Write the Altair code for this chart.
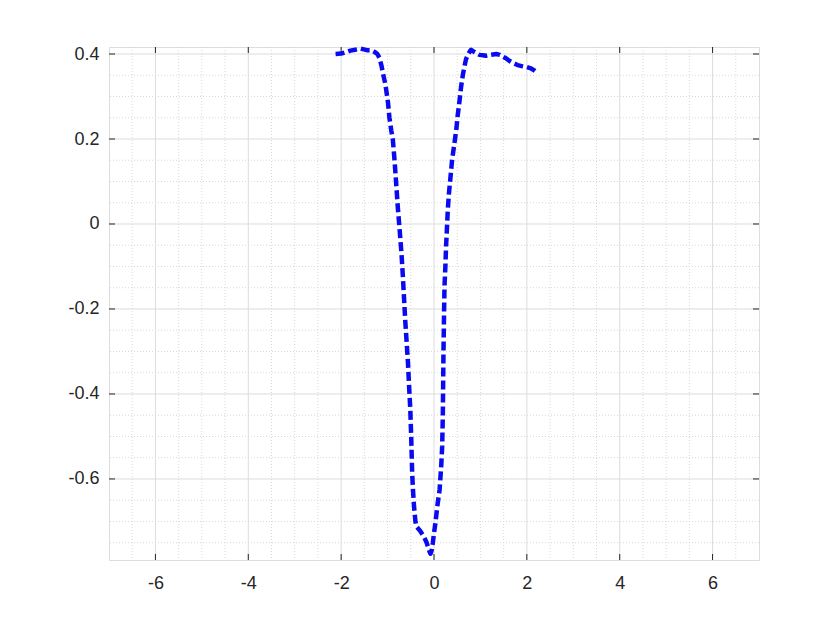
import altair as alt
import pandas as pd
import numpy as np

# ---- data ----
xs = [-2.12, -2.0, -1.9, -1.8, -1.7, -1.58, -1.45, -1.35, -1.28, -1.22, -1.17, -1.13, -1.10,
      -1.06, -1.03, -0.99, -0.96, -0.92, -0.886, -0.85, -0.81, -0.78, -0.74, -0.70, -0.67,
      -0.645, -0.62, -0.59, -0.56, -0.535, -0.51, -0.49, -0.47, -0.45, -0.43, -0.40, -0.38,
      -0.30, -0.24, -0.19, -0.155, -0.12, -0.097, -0.075, -0.05, -0.026, 0.0, 0.03, 0.08,
      0.12, 0.155, 0.176, 0.19, 0.204, 0.215, 0.226, 0.245, 0.26, 0.297, 0.32, 0.35, 0.39,
      0.44, 0.48, 0.51, 0.55, 0.585, 0.62, 0.656, 0.69, 0.73, 0.77, 0.80, 0.85, 0.92, 0.98,
      1.05, 1.12, 1.20, 1.27, 1.34, 1.42, 1.50, 1.55, 1.62, 1.70, 1.80, 1.91, 2.00, 2.09,
      2.15, 2.21]
ys = [0.400, 0.401, 0.404, 0.408, 0.410, 0.413, 0.409, 0.409, 0.405, 0.400, 0.390, 0.372, 0.355,
      0.335, 0.316, 0.285, 0.250, 0.220, 0.198, 0.150, 0.088, 0.040, -0.014, -0.070, -0.124,
      -0.175, -0.226, -0.277, -0.328, -0.385, -0.437, -0.505, -0.587, -0.630, -0.665, -0.700, -0.712,
      -0.722, -0.732, -0.742, -0.751, -0.763, -0.771, -0.776, -0.768, -0.751, -0.728, -0.704, -0.657,
      -0.626, -0.571, -0.524, -0.450, -0.304, -0.220, -0.147, -0.100, -0.053, 0.033, 0.070, 0.104, 0.151,
      0.190, 0.222, 0.255, 0.290, 0.324, 0.350, 0.371, 0.388, 0.398, 0.406, 0.410, 0.406, 0.402, 0.398,
      0.397, 0.396, 0.398, 0.399, 0.400, 0.398, 0.393, 0.390, 0.384, 0.379, 0.374, 0.371, 0.369, 0.366,
      0.362, 0.357]

x_major = [-6, -4, -2, 0, 2, 4, 6]
y_major = [-0.6, -0.4, -0.2, 0, 0.2, 0.4]
x_minor = [v for v in np.round(np.arange(-6.5, 6.51, 0.5), 3) if v not in x_major]
y_minor = [v for v in np.round(np.arange(-0.75, 0.401, 0.05), 3)
           if not any(abs(v - m) < 1e-9 for m in y_major)]

X_DOMAIN = [-7, 7]
Y_DOMAIN = [-0.7907, 0.4165]
W, H = 650, 513
INK = "#262626"
FONT = "Liberation Sans"

df = pd.DataFrame({"x": xs, "y": ys, "order": range(len(xs))})
xmaj = pd.DataFrame({"v": x_major})
ymaj = pd.DataFrame({"v": y_major})
xmin_ = pd.DataFrame({"v": x_minor})
ymin_ = pd.DataFrame({"v": y_minor})

xs_scale = alt.Scale(domain=X_DOMAIN, nice=False, zero=False)
ys_scale = alt.Scale(domain=Y_DOMAIN, nice=False, zero=False)
lbl = "(datum.value < 0 ? '-' : '') + format(abs(datum.value), '~g')"

x_axis = alt.Axis(values=x_major, grid=False, ticks=False, tickSize=0, domain=False,
                  labelExpr=lbl, labelPadding=14, labelFontSize=18, labelFont=FONT,
                  labelColor=INK, title=None)
y_axis = alt.Axis(values=y_major, grid=False, ticks=False, tickSize=0, domain=False,
                  labelExpr=lbl, labelPadding=10, labelFontSize=18, labelFont=FONT,
                  labelColor=INK, title=None)

minor_x = alt.Chart(xmin_).mark_rule(color="#d8d8d8", strokeWidth=1, strokeDash=[1, 2]).encode(
    x=alt.X("v:Q", scale=xs_scale, axis=x_axis))
minor_y = alt.Chart(ymin_).mark_rule(color="#d8d8d8", strokeWidth=1, strokeDash=[1, 2]).encode(
    y=alt.Y("v:Q", scale=ys_scale, axis=y_axis))
major_x = alt.Chart(xmaj).mark_rule(color="#dcdcdc", strokeWidth=1).encode(
    x=alt.X("v:Q", scale=xs_scale, axis=x_axis))
major_y = alt.Chart(ymaj).mark_rule(color="#dcdcdc", strokeWidth=1).encode(
    y=alt.Y("v:Q", scale=ys_scale, axis=y_axis))

TL = 6
tick_b = alt.Chart(xmaj).mark_rule(color=INK, strokeWidth=1).encode(
    x=alt.X("v:Q", scale=xs_scale, axis=x_axis), y=alt.value(H), y2=alt.value(H - TL))
tick_t = alt.Chart(xmaj).mark_rule(color=INK, strokeWidth=1).encode(
    x=alt.X("v:Q", scale=xs_scale, axis=x_axis), y=alt.value(0), y2=alt.value(TL))
tick_l = alt.Chart(ymaj).mark_rule(color=INK, strokeWidth=1).encode(
    y=alt.Y("v:Q", scale=ys_scale, axis=y_axis), x=alt.value(0), x2=alt.value(TL))
tick_r = alt.Chart(ymaj).mark_rule(color=INK, strokeWidth=1).encode(
    y=alt.Y("v:Q", scale=ys_scale, axis=y_axis), x=alt.value(W), x2=alt.value(W - TL))

line = alt.Chart(df).mark_line(color="#0a0af0", strokeWidth=4.5, strokeDash=[9, 4],
                               strokeCap="butt", strokeJoin="round").encode(
    x=alt.X("x:Q", scale=xs_scale, axis=x_axis),
    y=alt.Y("y:Q", scale=ys_scale, axis=y_axis),
    order="order:Q")

chart = alt.layer(minor_x, minor_y, major_x, major_y, tick_b, tick_t, tick_l, tick_r, line).properties(
    width=W, height=H,
    autosize=alt.AutoSizeParams(type="none"),
    padding={"left": 101, "top": 39, "right": 60, "bottom": 55},
).configure_view(stroke=INK, strokeWidth=1).configure(background="white")

chart.save("out.html", embed_options={"renderer": "svg", "actions": False})
